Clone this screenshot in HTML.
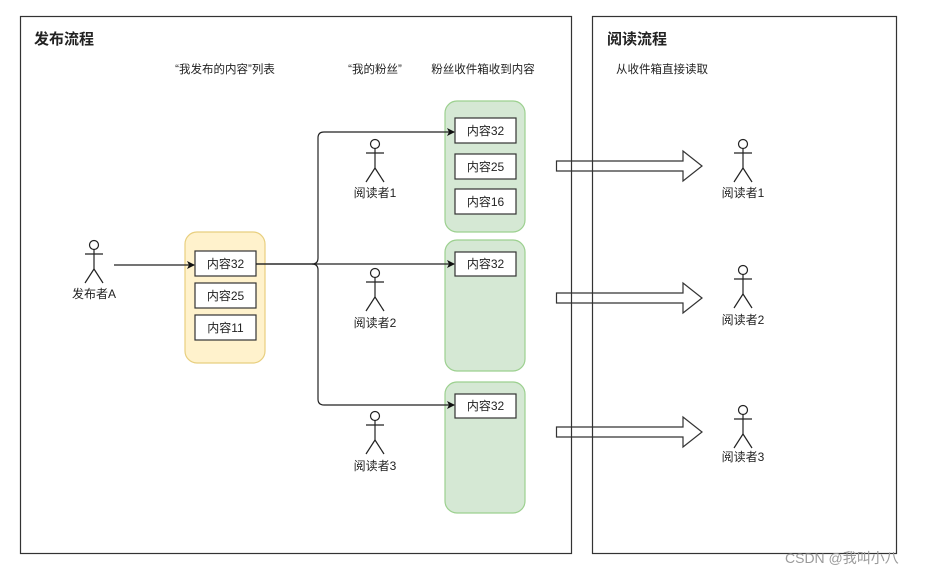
<!DOCTYPE html>
<html><head><meta charset="utf-8"><style>
html,body{margin:0;padding:0;background:#fff;}
svg{display:block;}
text{font-family:"Liberation Sans","Noto Sans CJK SC",sans-serif;fill:#222;}
</style></head><body>
<svg width="937" height="576" viewBox="0 0 937 576" xmlns="http://www.w3.org/2000/svg">
<defs>
<marker id="ah" markerWidth="8" markerHeight="8" refX="7" refY="4" orient="auto" markerUnits="userSpaceOnUse">
<path d="M0,0 L8,4 L0,8 L2,4 Z" fill="#111"/></marker>
<g id="actor" fill="none" stroke="#222" stroke-width="1.2">
<circle cx="0" cy="0" r="4.5"/>
<line x1="0" y1="4.5" x2="0" y2="24"/>
<line x1="-9" y1="9" x2="9" y2="9"/>
<line x1="0" y1="24" x2="-9" y2="38"/>
<line x1="0" y1="24" x2="9" y2="38"/>
</g>
</defs>
<rect x="20.5" y="16.5" width="551" height="537" fill="none" stroke="#333" stroke-width="1.2"/>
<rect x="592.5" y="16.5" width="304" height="537" fill="none" stroke="#333" stroke-width="1.2"/>
<text x="34" y="44" font-size="15" font-weight="bold">发布流程</text>
<text x="607" y="44" font-size="15" font-weight="bold">阅读流程</text>
<text x="225" y="73" font-size="11.5" text-anchor="middle">“我发布的内容”列表</text>
<text x="375" y="73" font-size="11.5" text-anchor="middle">“我的粉丝”</text>
<text x="483" y="73" font-size="11.5" text-anchor="middle">粉丝收件箱收到内容</text>
<text x="662" y="73" font-size="11.5" text-anchor="middle">从收件箱直接读取</text>

<rect x="185" y="232" width="80" height="131" rx="12" fill="#fff2cc" stroke="#e8cf7f" stroke-width="1.2"/>
<rect x="445" y="101" width="80" height="131" rx="12" fill="#d5e8d4" stroke="#9cd08f" stroke-width="1.2"/>
<rect x="445" y="240" width="80" height="131" rx="12" fill="#d5e8d4" stroke="#9cd08f" stroke-width="1.2"/>
<rect x="445" y="382" width="80" height="131" rx="12" fill="#d5e8d4" stroke="#9cd08f" stroke-width="1.2"/>

<g fill="#fff" stroke="#333" stroke-width="1.2">
<rect x="195" y="251" width="61" height="25"/>
<rect x="195" y="283" width="61" height="25"/>
<rect x="195" y="315" width="61" height="25"/>
<rect x="455" y="118" width="61" height="25"/>
<rect x="455" y="154" width="61" height="25"/>
<rect x="455" y="189" width="61" height="25"/>
<rect x="455" y="252" width="61" height="24"/>
<rect x="455" y="394" width="61" height="24"/>
</g>
<g font-size="12" text-anchor="middle">
<text x="225.5" y="268">内容32</text>
<text x="225.5" y="300">内容25</text>
<text x="225.5" y="332">内容11</text>
<text x="485.5" y="135">内容32</text>
<text x="485.5" y="171">内容25</text>
<text x="485.5" y="206">内容16</text>
<text x="485.5" y="268">内容32</text>
<text x="485.5" y="410">内容32</text>
</g>

<g fill="none" stroke="#222" stroke-width="1.2">
<line x1="114" y1="265" x2="194" y2="265" marker-end="url(#ah)"/>
<path d="M256,264 L312,264 Q318,264 318,258 L318,138 Q318,132 324,132 L454,132" marker-end="url(#ah)"/>
<line x1="256" y1="264" x2="454" y2="264" marker-end="url(#ah)"/>
<path d="M312,264 Q318,264 318,270 L318,399 Q318,405 324,405 L454,405" marker-end="url(#ah)"/>
</g>

<g fill="none" stroke="#333" stroke-width="1.2">
<path d="M556.5,161 L683,161 L683,151 L702,166 L683,181 L683,171 L556.5,171 Z"/>
<path d="M556.5,293 L683,293 L683,283 L702,298 L683,313 L683,303 L556.5,303 Z"/>
<path d="M556.5,427 L683,427 L683,417 L702,432 L683,447 L683,437 L556.5,437 Z"/>
</g>

<use href="#actor" x="94" y="245"/>
<use href="#actor" x="375" y="144"/>
<use href="#actor" x="375" y="273"/>
<use href="#actor" x="375" y="416"/>
<use href="#actor" x="743" y="144"/>
<use href="#actor" x="743" y="270"/>
<use href="#actor" x="743" y="410"/>
<g font-size="12" text-anchor="middle">
<text x="94" y="298">发布者A</text>
<text x="375" y="197">阅读者1</text>
<text x="375" y="327">阅读者2</text>
<text x="375" y="470">阅读者3</text>
<text x="743" y="197">阅读者1</text>
<text x="743" y="324">阅读者2</text>
<text x="743" y="461">阅读者3</text>
</g>
<text x="785" y="563" font-size="14" fill="#999" style="fill:#9a9a9a">CSDN @我叫小八</text>
</svg>
</body></html>
